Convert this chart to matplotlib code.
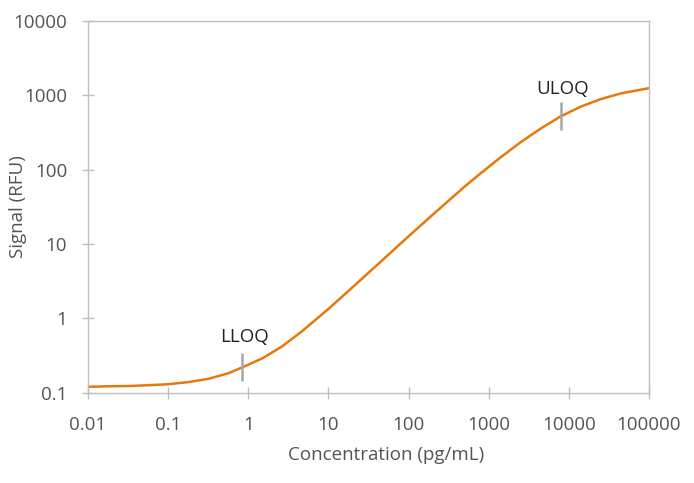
import matplotlib
matplotlib.use('Agg')
import matplotlib.pyplot as plt
from matplotlib.ticker import FixedLocator, FixedFormatter, NullLocator

plt.rcParams['font.family'] = ['Open Sans', 'DejaVu Sans']
plt.rcParams['font.weight'] = 'medium'

# ── valores (concentração em pg/mL, sinal em RFU) ────────────────────────────
conc = [0.01, 0.018, 0.032, 0.056, 0.1, 0.18, 0.32, 0.56, 0.84, 1.5, 2.6,
        4.6, 7.5, 10, 20, 50, 100, 200, 500, 790, 1400, 2500, 4500, 7900,
        14000, 25000, 45000, 100000]
signal = [0.120, 0.122, 0.123, 0.126, 0.130, 0.139, 0.154, 0.182, 0.219,
          0.290, 0.415, 0.661, 1.03, 1.34, 2.62, 6.43, 12.7, 24.8, 59.2, 89,
          146, 234, 360, 521, 703, 890, 1064, 1250]

limit_names = ['LLOQ', 'ULOQ']
limit_conc = [0.84, 7900]
limit_signal = [0.219, 521]

x_ticks = [0.01, 0.1, 1, 10, 100, 1000, 10000, 100000]
x_labels = ['0.01', '0.1', '1', '10', '100', '1000', '10000', '100000']
y_ticks = [0.1, 1, 10, 100, 1000, 10000]
y_labels = ['0.1', '1', '10', '100', '1000', '10000']

GRAY = '#545454'
SPINE = '#BFBFBF'
FS = 13.5

W, H = 694, 483
L, R, T, B = 88, 649, 21, 392.7

fig = plt.figure(figsize=(W / 100, H / 100), dpi=100)
ax = fig.add_axes([L / W, 1 - B / H, (R - L) / W, (B - T) / H])

ax.plot(conc, signal, color='#E8780C', lw=1.8, solid_capstyle='round',
        solid_joinstyle='round')

ax.set_xscale('log')
ax.set_yscale('log')
ax.set_xlim(0.01, 100000)
ax.set_ylim(0.1, 10000)

ax.xaxis.set_major_locator(FixedLocator(x_ticks))
ax.xaxis.set_major_formatter(FixedFormatter(x_labels))
ax.yaxis.set_major_locator(FixedLocator(y_ticks))
ax.yaxis.set_major_formatter(FixedFormatter(y_labels))
ax.xaxis.set_minor_locator(NullLocator())
ax.yaxis.set_minor_locator(NullLocator())

ax.tick_params(axis='both', direction='inout', length=9, width=1, color=SPINE,
               labelcolor=GRAY, labelsize=FS)
ax.tick_params(axis='x', pad=12.5)
ax.tick_params(axis='y', pad=10.5)
for s in ax.spines.values():
    s.set_color(SPINE)
    s.set_linewidth(1)

ax.set_xlabel('Concentration (pg/mL)', fontsize=FS, color=GRAY)
ax.xaxis.label.set_verticalalignment('baseline')
ax.xaxis.set_label_coords((386 - L) / (R - L), -(460 - B) / (B - T))
ax.set_ylabel('Signal (RFU)', fontsize=FS, color=GRAY)
ax.yaxis.label.set_verticalalignment('center')
ax.yaxis.set_label_coords(-(L - 18) / (R - L), 0.5)

# marcadores LLOQ / ULOQ
offsets = [(1.8, 22), (1.2, 19.7)]
for name, cx, sy, off in zip(limit_names, limit_conc, limit_signal, offsets):
    ax.plot([cx], [sy], marker='|', markersize=20.5, markeredgewidth=1.8,
            color='#A6A6A6', zorder=3)
    ax.annotate(name, (cx, sy), xytext=off, textcoords='offset points',
                ha='center', va='center', fontsize=FS, color='#222222')

fig.savefig('out.png', dpi=100)
